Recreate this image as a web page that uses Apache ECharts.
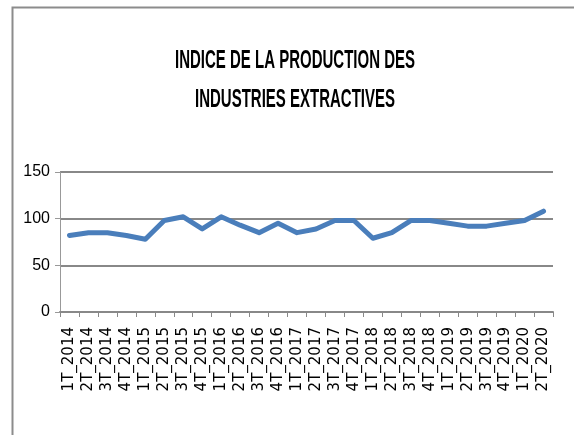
<!DOCTYPE html>
<html>
<head>
<meta charset="utf-8">
<script src="https://cdn.jsdelivr.net/npm/echarts@6/dist/echarts.min.js"></script>
<style>
  html, body { margin: 0; padding: 0; background: #fff; }
  #chart { width: 574px; height: 435px; }
</style>
</head>
<body>
<div id="chart"></div>
<script>
  // trimestres
  var quarters = ['1T_2014','2T_2014','3T_2014','4T_2014','1T_2015','2T_2015','3T_2015','4T_2015',
                  '1T_2016','2T_2016','3T_2016','4T_2016','1T_2017','2T_2017','3T_2017','4T_2017',
                  '1T_2018','2T_2018','3T_2018','4T_2018','1T_2019','2T_2019','3T_2019','4T_2019',
                  '1T_2020','2T_2020'];
  // indice de la production
  var indice = [82, 85, 85, 82, 78, 98, 102, 89, 102, 93, 85, 95, 85, 89, 98, 98,
                79, 85, 98, 98, 95, 92, 92, 95, 98, 108];
  var titleLines = ['INDICE DE LA PRODUCTION DES', 'INDUSTRIES EXTRACTIVES'];
  var yTicks = { min: 0, max: 150, interval: 50 };

  var chart = echarts.init(document.getElementById('chart'));
  chart.setOption({
    animation: false,
    backgroundColor: '#fff',
    graphic: [
      {
        type: 'rect',
        shape: { x: 12.5, y: 7.5, width: 700, height: 600 },
        style: { fill: 'none', stroke: '#8c8c8c', lineWidth: 2 },
        silent: true
      },
      {
        type: 'text', x: 295, y: 61, scaleX: 0.6,
        style: {
          text: titleLines[0], font: 'bold 25px "Liberation Sans", Arial, sans-serif',
          fill: '#000', align: 'center', verticalAlign: 'middle'
        }
      },
      {
        type: 'text', x: 295, y: 100, scaleX: 0.6,
        style: {
          text: titleLines[1], font: 'bold 25px "Liberation Sans", Arial, sans-serif',
          fill: '#000', align: 'center', verticalAlign: 'middle'
        }
      }
    ],
    grid: { left: 60, right: 21, top: 172, bottom: 123 },
    xAxis: {
      type: 'category',
      data: quarters,
      boundaryGap: true,
      axisLine: { lineStyle: { color: '#888', width: 2 } },
      axisTick: { show: true, length: 5, interval: 0, lineStyle: { color: '#888' } },
      axisLabel: {
        interval: 0, rotate: 90, margin: 15, color: '#000',
        fontFamily: 'DejaVu Sans', fontSize: 15
      }
    },
    yAxis: {
      type: 'value',
      min: yTicks.min, max: yTicks.max, interval: yTicks.interval,
      axisLine: { show: true, lineStyle: { color: '#999', width: 1 } },
      axisTick: { show: true, length: 5, lineStyle: { color: '#999' } },
      axisLabel: {
        color: '#000', margin: 10,
        fontFamily: '"Liberation Sans Narrow", "Liberation Sans", sans-serif', fontSize: 16
      },
      splitLine: { lineStyle: { color: '#888', width: 2 } }
    },
    series: [{
      type: 'line',
      data: indice,
      symbol: 'none',
      lineStyle: { color: '#4a7ebb', width: 5, cap: 'round', join: 'round' }
    }]
  });
</script>
</body>
</html>
